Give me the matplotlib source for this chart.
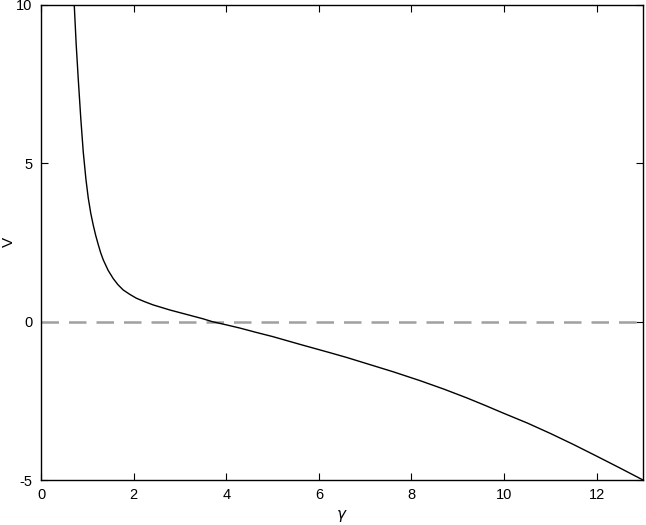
import matplotlib
matplotlib.use("Agg")
import matplotlib.pyplot as plt

gamma = [0.718, 0.76, 0.805, 0.86, 0.913, 0.97, 1.021, 1.075, 1.128, 1.18, 1.237,
         1.29, 1.345, 1.45, 1.56, 1.66, 1.776, 1.92, 2.06, 2.24, 2.42, 2.6, 2.78,
         2.96, 3.14, 3.32, 3.50, 3.7, 4.0, 4.29, 4.65, 5.0, 5.6, 6.24, 6.6, 7.0,
         7.6, 8.18, 8.7, 9.2, 9.6, 9.97, 10.5, 11.0, 11.5, 11.99, 12.5, 13.0]
V = [10.0, 8.75, 7.65, 6.4, 5.35, 4.5, 3.9, 3.42, 3.05, 2.73, 2.43,
     2.17, 1.95, 1.62, 1.36, 1.17, 1.0, 0.86, 0.74, 0.63, 0.53, 0.45, 0.37,
     0.30, 0.23, 0.16, 0.09, 0.0, -0.1, -0.2, -0.34, -0.47, -0.72, -0.98, -1.13, -1.31,
     -1.58, -1.86, -2.13, -2.41, -2.65, -2.88, -3.2, -3.53, -3.88, -4.24, -4.62, -5.0]

xticks = [0, 2, 4, 6, 8, 10, 12]
yticks = [-5, 0, 5, 10]

plt.rcParams['font.family'] = ['Liberation Sans', 'DejaVu Sans']
plt.rcParams['axes.unicode_minus'] = False
fig = plt.figure(figsize=(6.46, 5.25), dpi=100)
ax = fig.add_axes([41/646, 45/525, 602/646, 475/525])

ax.axhline(0, color='#a0a0a0', lw=1.8, dashes=(7, 4))
ax.plot(gamma, V, color='black', lw=1.0, solid_joinstyle='round')

ax.set_xlim(0, 13)
ax.set_ylim(-5, 10)
ax.set_xticks(xticks)
ax.set_yticks(yticks)
ax.tick_params(direction='in', length=5, width=0.8, top=True, right=True,
               labelsize=10.5, pad=6)
for s in ax.spines.values():
    s.set_linewidth(1.0)
ax.set_xlabel(r'$\gamma$', fontsize=11, labelpad=4)
fig.text(2/646, 1 - 242/525, 'V', rotation=90, ha='left', va='center', fontsize=11)

fig.savefig('out.png', dpi=100)
